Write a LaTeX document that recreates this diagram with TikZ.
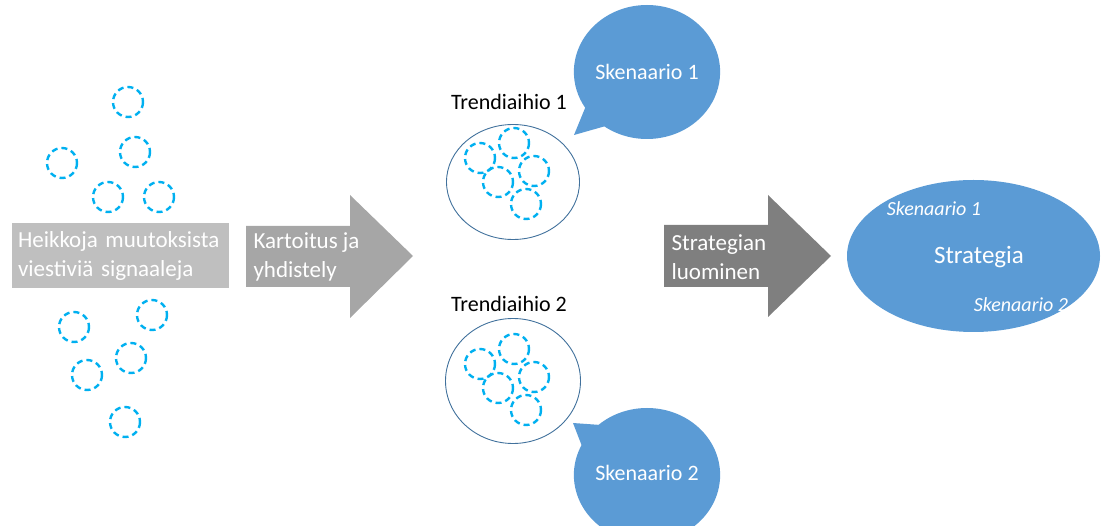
\documentclass[tikz,border=0pt]{standalone}
\usepackage{fontspec}
\setmainfont{Carlito}
\usetikzlibrary{shapes.geometric,shapes.callouts}
\definecolor{signalcyan}{HTML}{00B0F0}
\definecolor{boxgray}{HTML}{BFBFBF}
\definecolor{arrowgray}{HTML}{A6A6A6}
\definecolor{arrowdark}{HTML}{7F7F7F}
\definecolor{scenblue}{HTML}{5B9BD5}
\definecolor{trendedge}{HTML}{41719C}

\begin{document}
\begin{tikzpicture}[x=1pt,y=-1pt,
  signal/.style={draw=signalcyan,line width=2.4pt,dash pattern=on 6pt off 4pt},
  txt/.style={font=\fontsize{22}{28}\selectfont},
  steptxt/.style={font=\fontsize{23}{29}\selectfont,text=white,align=left},
  bubble/.style={ellipse callout,fill=scenblue,text=white,minimum width=136pt,minimum height=134pt,callout pointer arc=22,inner sep=0pt,txt}]
\useasboundingbox (0,0) rectangle (1101,526);
\clip (0,0) rectangle (1101,526);
\foreach \p in {(128,102),(135,152),(62,163),(108,197),(159,197),(152,315),(74,327),(131,358),(87,375),(125,422)}
  \draw[signal] \p circle (15);
\node (signals) [fill=boxgray,steptxt,text width=205pt,inner sep=6pt,minimum height=65pt] at (120.5,255.5) {Heikkoja muutoksista\\viestiviä signaaleja};
\fill[arrowgray] (246,226) -- (350,226) -- (350,195) -- (413,256) -- (350,318) -- (350,287) -- (246,287) -- cycle;
\node (mapping) [steptxt,anchor=west] at (250,257) {Kartoitus ja\\yhdistely};
\node (trend1) [ellipse,draw=trendedge,line width=0.9pt,minimum width=133pt,minimum height=115pt] at (513,182) {};
\node (trend2) [ellipse,draw=trendedge,line width=0.9pt,minimum width=135pt,minimum height=125pt] at (513,381) {};
\node (trend1lab) [txt] at (509,102) {Trendiaihio 1};
\node (trend2lab) [txt] at (509,304) {Trendiaihio 2};
\foreach \dy in {0,206}
  \foreach \x/\y in {480/158,514/143,534/171,498/182,526/204}
    \draw[signal] (\x,\y+\dy) circle (15);
\coordinate (tip1) at (574,135);
\coordinate (tip2) at (573,423);
\node (scen1) [bubble,callout absolute pointer={(tip1)}] at (647,72) {\raisebox{-2pt}{Skenaario 1}};
\node (scen2) [bubble,callout absolute pointer={(tip2)}] at (647,475) {\raisebox{5pt}{Skenaario 2}};
\fill[arrowdark] (664,225) -- (768,225) -- (768,195) -- (831,256) -- (768,317) -- (768,287) -- (664,287) -- cycle;
\node (creating) [steptxt,anchor=west] at (668,257) {Strategian\\luominen};
\node (strategy) [ellipse,fill=scenblue,minimum width=253pt,minimum height=152pt] at (973.5,256) {};
\node (stratlab) [text=white,font=\fontsize{25}{30}\selectfont] at (979,257) {Strategia};
\node (strat1) [text=white,font=\fontsize{20}{24}\selectfont\itshape] at (934,209) {Skenaario 1};
\node (strat2) [text=white,font=\fontsize{20}{24}\selectfont\itshape] at (1021,305) {Skenaario 2};
\end{tikzpicture}
\end{document}
